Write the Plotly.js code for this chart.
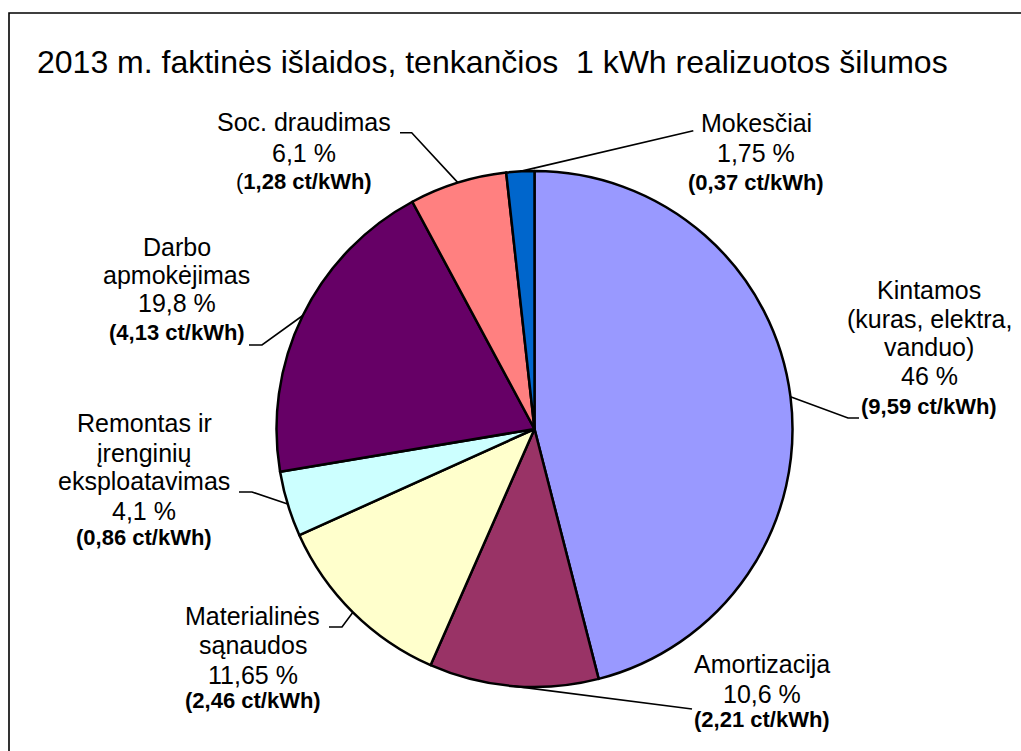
<!DOCTYPE html>
<html>
<head>
<meta charset="utf-8">
<script src="https://cdn.plot.ly/plotly-3.0.1.min.js"></script>
<style>
  html, body { margin: 0; padding: 0; background: #fff; }
  #chart { width: 1021px; height: 751px; }
</style>
</head>
<body>
<div id="chart"></div>
<script>
var W = 1021, H = 751;

// data, in drawing order (clockwise from 12 o'clock)
var categories = ["Kintamos", "Amortizacija", "Materialinės sąnaudos",
                  "Remontas ir įrenginių eksploatavimas", "Darbo apmokėjimas",
                  "Soc. draudimas", "Mokesčiai"];
var nameLines = [["Kintamos", "(kuras, elektra,", "vanduo)"],
                 ["Amortizacija"],
                 ["Materialinės", "sąnaudos"],
                 ["Remontas ir", "įrenginių", "eksploatavimas"],
                 ["Darbo", "apmokėjimas"],
                 ["Soc. draudimas"],
                 ["Mokesčiai"]];
var shares = [46, 10.6, 11.65, 4.1, 19.8, 6.1, 1.75];      // %
var costs = [9.59, 2.21, 2.46, 0.86, 4.13, 1.28, 0.37];     // ct/kWh
var colors = ["#9999FF", "#993366", "#FFFFCC", "#CCFFFF", "#660066", "#FF8080", "#0066CC"];

// label layout in pixels: text centre x, baselines, leader end and elbow
var labelX = [929, 761.5, 252.5, 144, 176.5, 303.5, 756.3];
var labelBase = [[299, 327.5, 356, 385, 414],
                 [672.5, 703, 727],
                 [625, 654, 684, 708],
                 [431.7, 461.7, 490, 520, 545],
                 [256, 284, 312, 340],
                 [131, 162, 189],
                 [131.7, 161.7, 190]];
var leaderEnd = [[859, 418], [692, 709], [329, 627], [239, 492], [249, 345], [400, 132.7], [693.3, 130.7]];
var leaderElbow = [[848, 418], [692, 709], [342, 627], [252, 492], [262, 345], [411.7, 132.7], [693.3, 130.7]];
var plainParen = [false, false, false, false, false, true, false];

var pieCx = 534.5, pieCy = 429, pieR = 258;
var regSize = 25, boldSize = 22, titleSize = 32;
var font = "Liberation Sans, Arial, sans-serif";

function fmt(v) { return String(v).replace(".", ","); }
function px(x) { return x / W; }
function py(y) { return 1 - y / H; }

var annotations = [];
var shapes = [];

var total = shares.reduce(function (a, b) { return a + b; }, 0);
var cum = 0;
shares.forEach(function (v, i) {
  var lines = nameLines[i].concat([fmt(v) + " %"]);
  var bold = plainParen[i]
    ? "(<b>" + fmt(costs[i]) + " ct/kWh)</b>"
    : "<b>(" + fmt(costs[i]) + " ct/kWh)</b>";
  lines.push(bold);
  lines.forEach(function (t, k) {
    var isBold = k === lines.length - 1;
    var fs = isBold ? boldSize : regSize;
    annotations.push({
      xref: "paper", yref: "paper",
      x: px(labelX[i]), y: py(labelBase[i][k] - 0.35 * fs),
      xanchor: "center", yanchor: "middle",
      text: t, showarrow: false,
      font: {family: font, size: fs, color: "#000"}
    });
  });

  // leader line from the middle of the slice edge
  var a = 2 * Math.PI * (cum + v / 2) / total;
  var ex = pieCx + pieR * Math.sin(a), ey = pieCy - pieR * Math.cos(a);
  var el = leaderElbow[i], en = leaderEnd[i];
  shapes.push({
    type: "path", xref: "paper", yref: "paper",
    path: "M" + px(ex) + "," + py(ey) + " L" + px(el[0]) + "," + py(el[1]) +
          " L" + px(en[0]) + "," + py(en[1]),
    line: {color: "#000", width: 1.6}
  });
  cum += v;
});

// chart area frame
shapes.push({
  type: "rect", xref: "paper", yref: "paper",
  x0: px(9), x1: 1.02, y0: -0.02, y1: py(13),
  line: {color: "#000", width: 1.6}, layer: "below"
});

var trace = {
  type: "pie",
  labels: categories,
  values: shares,
  sort: false,
  direction: "clockwise",
  rotation: 0,
  textinfo: "none",
  hoverinfo: "label+percent",
  marker: {colors: colors, line: {color: "#000", width: 2.5}},
  domain: {x: [px(pieCx - pieR), px(pieCx + pieR)],
           y: [py(pieCy + pieR), py(pieCy - pieR)]}
};

var layout = {
  width: W, height: H,
  margin: {l: 0, r: 0, t: 0, b: 0},
  paper_bgcolor: "#fff",
  showlegend: false,
  title: {
    text: "2013 m. faktinės išlaidos, tenkančios  1 kWh realizuotos šilumos",
    font: {family: font, size: titleSize, color: "#000"},
    x: px(37), xanchor: "left",
    y: py(73 - 0.35 * titleSize), yanchor: "middle"
  },
  annotations: annotations,
  shapes: shapes
};

Plotly.newPlot("chart", [trace], layout, {displayModeBar: false, staticPlot: true});
</script>
</body>
</html>
